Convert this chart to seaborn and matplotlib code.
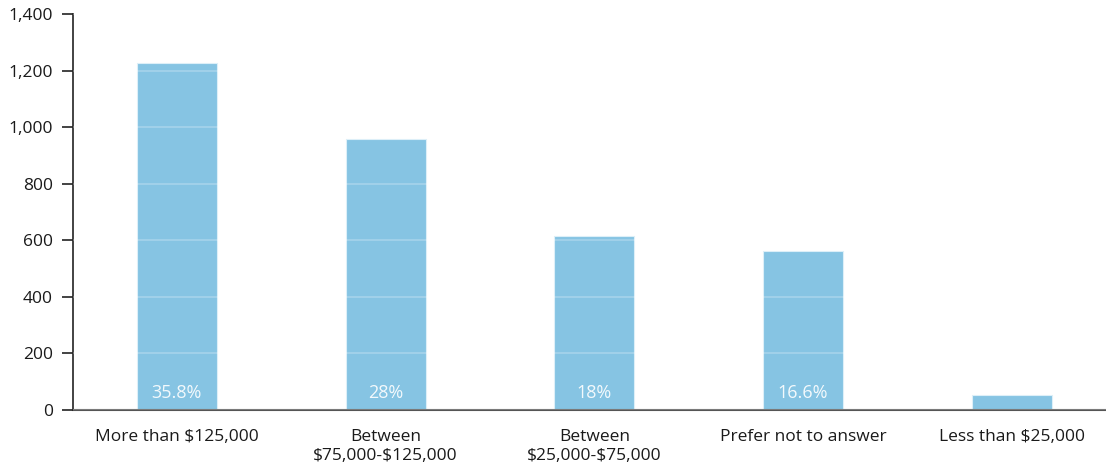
import matplotlib
matplotlib.use("Agg")
import matplotlib.pyplot as plt
import seaborn as sns
import pandas as pd
from matplotlib.ticker import FuncFormatter, MultipleLocator

categories = ["More than $125,000", "Between\n$75,000-$125,000", "Between\n$25,000-$75,000",
              "Prefer not to answer", "Less than $25,000"]
values = [1227, 958, 615, 563, 53]
pct_labels = ["35.8%", "28%", "18%", "16.6%", ""]

sns.set_theme(style="white")
plt.rcParams['font.family'] = ['Open Sans', 'DejaVu Sans']
plt.rcParams['text.parse_math'] = False

df = pd.DataFrame({"cat": categories, "val": values})

fig = plt.figure(figsize=(11.06, 4.68), dpi=100)
ax = fig.add_axes([0.0656, 0.1239, 0.9434, 0.8461])

sns.barplot(data=df, x="cat", y="val", color="#86C4E3", saturation=1, width=0.383,
            edgecolor="#DDEFF8", linewidth=0.8, ax=ax)

ax.set_xlim(-0.5, 4.5)
ax.set_ylim(0, 1400)
ax.yaxis.set_major_locator(MultipleLocator(200))
ax.yaxis.set_major_formatter(FuncFormatter(lambda v, p: f"{int(v):,}"))
ax.set_xlabel("")
ax.set_ylabel("")

ax.set_axisbelow(False)
ax.yaxis.grid(True, color="white", alpha=0.22, linewidth=1.5)
ax.xaxis.grid(False)

for s in ["top", "right"]:
    ax.spines[s].set_visible(False)
ax.spines["left"].set_color("#222222")
ax.spines["left"].set_linewidth(1.2)
ax.spines["bottom"].set_color("#555555")
ax.spines["bottom"].set_linewidth(1.5)

ax.tick_params(axis="y", which="major", left=True, length=8, width=1.2, color="#222222",
               labelsize=12.5, labelcolor="#1a1a1a", pad=6)
ax.tick_params(axis="x", bottom=False, labelsize=12.5, labelcolor="#1a1a1a", pad=8)

for i, lab in enumerate(pct_labels):
    if lab:
        ax.text(i, 60, lab, ha="center", va="center", color="white", alpha=0.9, fontsize=13)

fig.savefig("out.png", dpi=100)
